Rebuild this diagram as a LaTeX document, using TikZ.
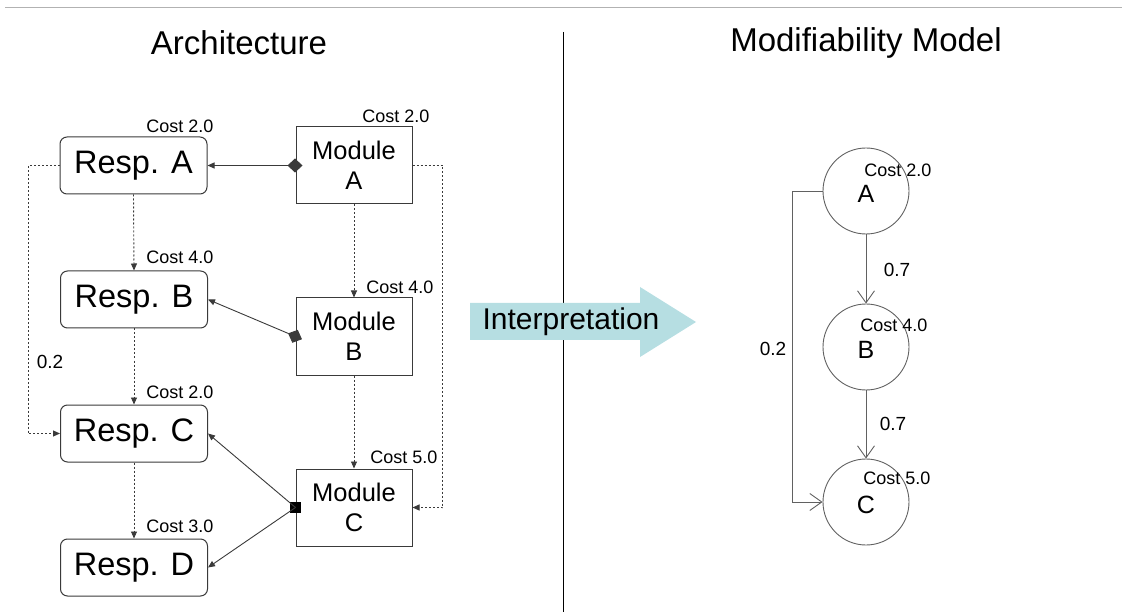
\documentclass[tikz,border=0pt]{standalone}
\usepackage{fontspec}
\setmainfont{Liberation Sans}
\usetikzlibrary{arrows.meta}
\definecolor{linegray}{HTML}{3A3A3A}
\definecolor{interpblue}{HTML}{B6DEE2}
\begin{document}
\begin{tikzpicture}[x=1pt,y=-1pt,
		resp/.style={draw=linegray, line width=1pt, rounded corners=7pt, minimum width=147pt, minimum height=57pt, font=\fontsize{32.5}{34}\selectfont},
		module/.style={draw=linegray, line width=1pt, minimum width=116pt, minimum height=77pt, align=center, font=\fontsize{25.5}{30}\selectfont},
		cost/.style={inner sep=0pt, font=\fontsize{18}{20}\selectfont},
		prob/.style={inner sep=0pt, font=\fontsize{19}{21}\selectfont},
		state/.style={draw=linegray!80, line width=0.9pt, circle, minimum size=86pt, inner sep=0pt, text height=23pt, font=\fontsize{25}{26}\selectfont},
		dep/.style={draw=linegray, line width=0.9pt, -{Triangle[length=7pt,width=6pt]}},
		dotdep/.style={draw=linegray, line width=0.9pt, dash pattern=on 2pt off 2pt, -{Triangle[length=7pt,width=6pt]}},
		trans/.style={draw=linegray!80, line width=0.9pt, -{Straight Barb[length=12pt,width=17pt]}}]
		\useasboundingbox (0,0) rectangle (1122,612);
		\draw[gray!60, line width=1pt] (5,8) -- (1122,8);
		\draw[black, line width=0.8pt] (563,32) -- (563,612);
		\node (t1) at (239,43) {\fontsize{33}{36}\selectfont Architecture};
		\node (t2) at (866,43) {\fontsize{33}{36}\selectfont Modifiability Model};
		% architecture side
		\node[resp] (ra) at (133.5,165.5) {Resp. A};
		\node[resp] (rb) at (134,299.5) {Resp. B};
		\node[resp] (rc) at (134,433.5) {Resp. C};
		\node[resp] (rd) at (134,567.5) {Resp. D};
		\node[module] (ma) at (354,165.5) {Module\\A};
		\node[module] (mb) at (354,336.5) {Module\\B};
		\node[module] (mc) at (354,507.5) {Module\\C};
		\node[cost] (cra) at (180,126) {Cost 2.0};
		\node[cost] (crb) at (180,257) {Cost 4.0};
		\node[cost] (crc) at (180,392) {Cost 2.0};
		\node[cost] (crd) at (180,526) {Cost 3.0};
		\node[cost] (cma) at (396,116) {Cost 2.0};
		\node[cost] (cmb) at (400,287) {Cost 4.0};
		\node[cost] (cmc) at (404,457) {Cost 5.0};
		\draw[dep, {Diamond[length=15pt,width=14pt]}-{Triangle[length=7pt,width=6pt]}, shorten <=-7pt] (ma.west) -- (ra.east);
		\draw[dep, {Diamond[length=15pt,width=14pt]}-{Triangle[length=7pt,width=6pt]}, shorten <=-7pt] (mb.west) -- (rb.east);
		\node[fill=black, minimum size=11pt, inner sep=0pt] (sq) at (mc.west) {};
		\draw[dep] (sq.center) -- (rc.east);
		\draw[dep] (sq.center) -- (rd.east);
		\draw[dotdep] (ra.south) -- (rb.north);
		\draw[dotdep] (rb.south) -- (rc.north);
		\draw[dotdep] (rc.south) -- (rd.north);
		\draw[dotdep] (ma.south) -- (mb.north);
		\draw[dotdep] (mb.south) -- (mc.north);
		\draw[dotdep] (ra.west) -- ++(-31,0) |- (rc.west);
		\draw[dotdep] (ma.east) -- ++(30,0) |- (mc.east);
		\node[prob] (p1) at (50,362) {0.2};
		% interpretation arrow
		\fill[interpblue] (470,303) -- (640,303) -- (640,287) -- (696,322) -- (640,357) -- (640,340) -- (470,340) -- cycle;
		\node (interp) at (571,322) {\fontsize{30}{32}\selectfont Interpretation};
		% modifiability model
		\node[state] (sa) at (866,191) {A};
		\node[state] (sb) at (866,347) {B};
		\node[state] (sc) at (866,502) {C};
		\node[cost] (csa) at (898,170) {Cost 2.0};
		\node[cost] (csb) at (894,325) {Cost 4.0};
		\node[cost] (csc) at (897,478) {Cost 5.0};
		\draw[trans] (sa.south) -- (sb.north);
		\draw[trans] (sb.south) -- (sc.north);
		\draw[trans] (sa.west) -- ++(-30,0) |- (sc.west);
		\node[prob] (p2) at (897,270) {0.7};
		\node[prob] (p3) at (893,424) {0.7};
		\node[prob] (p4) at (773,349) {0.2};
	\end{tikzpicture}
\end{document}
